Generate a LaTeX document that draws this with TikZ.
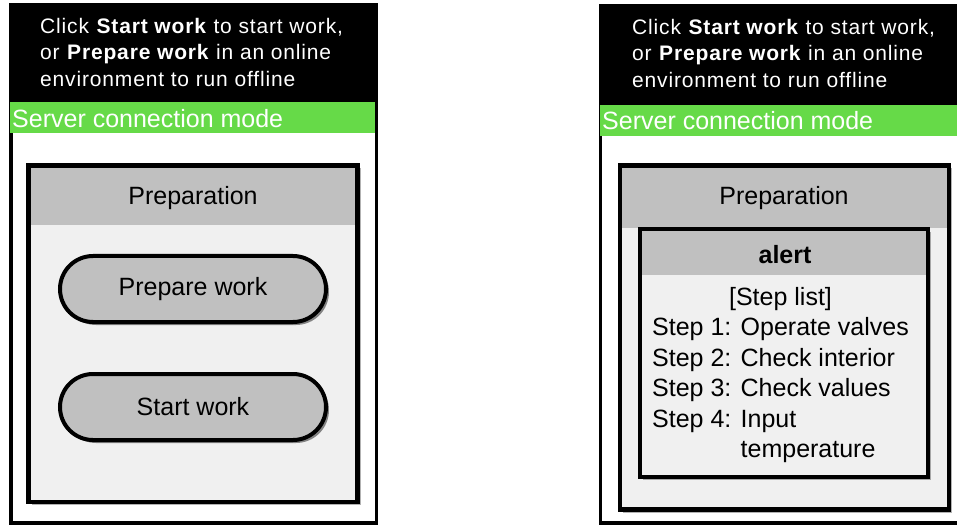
\documentclass[tikz,border=0pt]{standalone}
\usepackage{fontspec}
\setmainfont{Liberation Sans}
\usetikzlibrary{shadows}
\definecolor{modegreen}{RGB}{102,218,72}
\definecolor{titlegray}{RGB}{192,192,192}
\definecolor{bodygray}{RGB}{240,240,240}
\newcommand{\hintfont}{\fontsize{21}{26.5}\selectfont\addfontfeature{LetterSpace=4}}
\newcommand{\uifont}{\fontsize{25}{30.5}\selectfont}

\begin{document}
\begin{tikzpicture}[x=1pt, y=-1pt,
  panelframe/.style={draw, line width=3.5pt, fill=white},
  softshadow/.style={drop shadow={shadow xshift=3pt, shadow yshift=-3pt, fill=black, opacity=0.3}},
  prepbox/.style={draw, line width=4.5pt, fill=bodygray, softshadow},
  alertbox/.style={draw, line width=4pt, fill=bodygray, softshadow},
  hint/.style={anchor=north west, inner sep=0pt, text=white, align=left, font=\hintfont},
  modetext/.style={anchor=base west, inner sep=0pt, text=white, font=\uifont},
  uitext/.style={anchor=base, inner sep=0pt, font=\uifont},
  button/.style={draw, line width=4pt, fill=titlegray, rounded corners=33pt,
    minimum width=266pt, minimum height=66pt, inner sep=0pt, font=\uifont,
    drop shadow={shadow xshift=3pt, shadow yshift=-3pt, fill=black, opacity=0.45}}]
\clip (0,0) rectangle (957,526);

\draw[panelframe] (11,5) rectangle (376.5,523);
\fill[black] (9.25,3.25) rectangle (378.25,102);
\fill[modegreen] (10,102) rectangle (375,133.5);
\node[hint] (hintL) at (40,18) {Click \textbf{Start work} to start work,\\or \textbf{Prepare work} in an online\\environment to run offline};
\node[modetext] (modeL) at (12,128) {Server connection mode};
\draw[prepbox] (28.5,165.5) rectangle (357.5,502);
\fill[titlegray] (30.75,167.75) rectangle (355.25,225);
\node[uitext] (prepL) at (193,205) {Preparation};
\node[button] (prepwork) at (193,289) {Prepare work};
\node[button] (startwork) at (193,407) {Start work};

\draw[panelframe] (600.5,6) rectangle (975,523);
\fill[black] (598.75,4.25) rectangle (980,105);
\fill[modegreen] (600,105) rectangle (980,136);
\node[hint] (hintR) at (632,19) {Click \textbf{Start work} to start work,\\or \textbf{Prepare work} in an online\\environment to run offline};
\node[modetext] (modeR) at (602,130) {Server connection mode};
\draw[prepbox] (620,165.5) rectangle (949,509.5);
\fill[titlegray] (622.25,167.75) rectangle (946.75,228);
\node[uitext] (prepR) at (784,205) {Preparation};
\draw[alertbox] (640,229.5) rectangle (928,477);
\fill[titlegray] (642,231.5) rectangle (926,275);
\node[uitext, font=\uifont\bfseries] (alert) at (785,264) {alert};
\node[anchor=north west, inner sep=0pt, font=\uifont] (steps) at (652,283.5)
  {\begin{tabular}{@{}l@{ }l@{}}
   \multicolumn{2}{c}{[Step list]}\\
   Step 1: & Operate valves\\
   Step 2: & Check interior\\
   Step 3: & Check values\\
   Step 4: & Input\\
           & temperature
   \end{tabular}};
\end{tikzpicture}
\end{document}
